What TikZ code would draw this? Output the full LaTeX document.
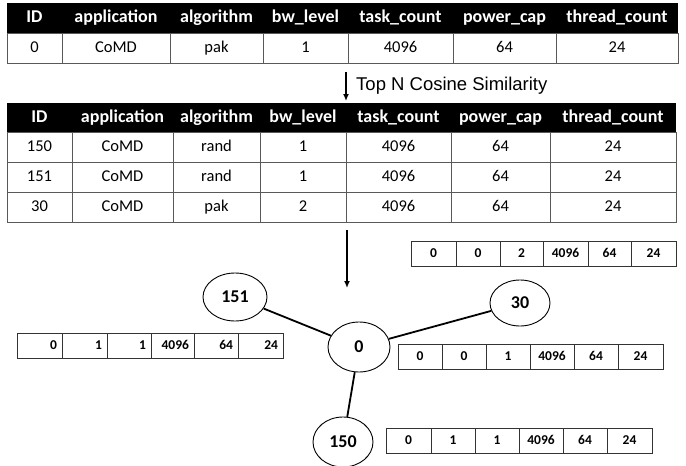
\documentclass[tikz,border=0pt]{standalone}
\usepackage{fontspec}
\setmainfont{Carlito}
\newfontfamily\arialf{Liberation Sans}
\usetikzlibrary{arrows.meta,shapes.geometric}
\begin{document}
\begin{tikzpicture}[x=1pt,y=-1pt,
  hdr/.style={fill=black, text=white, inner sep=0pt, minimum height=30pt, text height=12.5pt, text depth=4pt, font=\fontsize{18}{20}\selectfont\bfseries},
  bodycell/.style={draw=black!65, line width=0.9pt, inner sep=0pt, minimum height=30pt, text height=11.5pt, text depth=3.5pt, font=\fontsize{16.5}{18}\selectfont},
  vcell/.style={draw=black!80, line width=0.9pt, inner sep=0pt, minimum height=25pt, text height=9.5pt, text depth=2.5pt, font=\fontsize{13.5}{15}\selectfont\bfseries},
  vnode/.style={ellipse, draw, line width=0.9pt, inner sep=0pt, font=\fontsize{18}{20}\selectfont\bfseries},
  link/.style={line width=1.8pt},
  flow/.style={line width=1.4pt, -{Latex[length=7pt,width=6pt]}}]
\useasboundingbox (0,0) rectangle (686,466);
% ---- table 1 ----
\foreach \l/\r/\t [count=\i] in {7/62/ID, 62/170/application, 170/263/algorithm, 263/348/bw\_level, 348/453/task\_count, 453/556/power\_cap, 556/678/thread\_count}
  \node[hdr, minimum width={(\r-\l)*1pt}] (t1h\i) at ({(\l+\r)/2},18) {\t};
\foreach \l/\r/\t [count=\i] in {7/62/0, 62/170/CoMD, 170/263/pak, 263/348/1, 348/453/4096, 453/556/64, 556/678/24}
  \node[bodycell, minimum width={(\r-\l)*1pt}] (t1r\i) at ({(\l+\r)/2},48) {\t};
% ---- arrow 1 ----
\coordinate (a1s) at (346,72);
\coordinate (a1e) at (346,101);
\draw[flow] (a1s) -- (a1e);
\node[anchor=west, inner sep=0pt, font=\arialf\fontsize{18.5}{20}\selectfont] (lbl) at (356,86) {Top N Cosine Similarity};
% ---- table 2 ----
\foreach \l/\r/\t [count=\i] in {7/72/ID, 72/173/application, 173/260/algorithm, 260/346/bw\_level, 346/451/task\_count, 451/550/power\_cap, 550/676/thread\_count}
  \node[hdr, minimum height=29.5pt, minimum width={(\r-\l)*1pt}] (t2h\i) at ({(\l+\r)/2},117.75) {\t};
\foreach \l/\r/\t [count=\i] in {7/72/150, 72/173/CoMD, 173/260/rand, 260/346/1, 346/451/4096, 451/550/64, 550/676/24}
  \node[bodycell, minimum width={(\r-\l)*1pt}] (t2a\i) at ({(\l+\r)/2},147.5) {\t};
\foreach \l/\r/\t [count=\i] in {7/72/151, 72/173/CoMD, 173/260/rand, 260/346/1, 346/451/4096, 451/550/64, 550/676/24}
  \node[bodycell, minimum width={(\r-\l)*1pt}] (t2b\i) at ({(\l+\r)/2},177.5) {\t};
\foreach \l/\r/\t [count=\i] in {7/72/30, 72/173/CoMD, 173/260/pak, 260/346/2, 346/451/4096, 451/550/64, 550/676/24}
  \node[bodycell, minimum width={(\r-\l)*1pt}] (t2c\i) at ({(\l+\r)/2},207.5) {\t};
% ---- arrow 2 ----
\coordinate (a2s) at (347,230);
\coordinate (a2e) at (347,288);
\draw[flow] (a2s) -- (a2e);
% ---- graph ----
\node[vnode, minimum width=64pt, minimum height=48pt] (e151) at (235,297) {151};
\node[vnode, minimum width=60pt, minimum height=46pt] (e30) at (520,303) {30};
\node[vnode, minimum width=62pt, minimum height=50pt] (e0) at (359,347) {0};
\node[vnode, minimum width=60pt, minimum height=50pt] (e150) at (343,442) {150};
\draw[link] (e151) -- (e0);
\draw[link] (e0) -- (e30);
\draw[link] (e0) -- (e150);
% ---- vectors ----
\foreach \l/\r/\t [count=\i] in {411/456/0, 456/500/0, 500/543/2, 543/588/4096, 588/631/64, 631/676/24}
  \node[vcell, minimum width={(\r-\l)*1pt}] (v30c\i) at ({(\l+\r)/2},253.5) {\t};
\foreach \l/\r/\t [count=\i] in {17/62/0, 62/107/1, 107/151/1, 151/194/4096, 194/238/64, 238/283/24}
  \node[vcell, minimum width={(\r-\l)*1pt}, text width={(\r-\l-10)*1pt}, align=right] (v151c\i) at ({(\l+\r)/2},346) {\t};
\foreach \l/\r/\t [count=\i] in {398/442/0, 442/486/0, 486/530/1, 530/574/4096, 574/618/64, 618/663/24}
  \node[vcell, minimum width={(\r-\l)*1pt}] (v0c\i) at ({(\l+\r)/2},357) {\t};
\foreach \l/\r/\t [count=\i] in {386/431/0, 431/475/1, 475/519/1, 519/563/4096, 563/607/64, 607/652/24}
  \node[vcell, minimum width={(\r-\l)*1pt}] (v150c\i) at ({(\l+\r)/2},440.5) {\t};
\end{tikzpicture}
\end{document}
